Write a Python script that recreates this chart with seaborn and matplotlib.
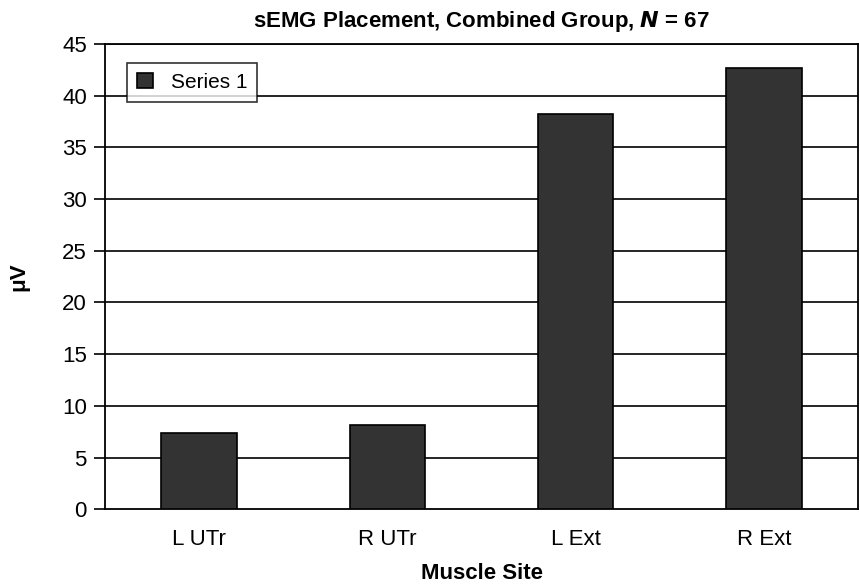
import matplotlib
matplotlib.use("Agg")
import matplotlib.pyplot as plt
import seaborn as sns
import pandas as pd
import numpy as np

# Werte
sites = ["L UTr", "R UTr", "L Ext", "R Ext"]
werte = [7.4, 8.1, 38.2, 42.7]
serie = "Series 1"

df = pd.DataFrame({"Muscle Site": sites, "uV": werte, "serie": serie})

sns.set_theme(style="white")
plt.rcParams["font.family"] = ["Liberation Sans", "DejaVu Sans"]
plt.rcParams["text.color"] = "black"
plt.rcParams["axes.labelcolor"] = "black"
plt.rcParams["xtick.color"] = "black"
plt.rcParams["ytick.color"] = "black"

fig = plt.figure(figsize=(8.6, 5.86), dpi=100)
ax = fig.add_axes([0.122, 0.131, 0.876, 0.794])

sns.barplot(data=df, x="Muscle Site", y="uV", hue="serie", palette=["#333333"],
            width=0.4, edgecolor="black", linewidth=1.2, ax=ax, zorder=3)

ax.set_ylim(0, 45)
ax.set_xlim(-0.5, 3.5)
ax.set_yticks(np.arange(0, 46, 5))
for y in np.arange(5, 46, 5):
    ax.axhline(y, color="black", linewidth=1.2, zorder=1)

# Striche auf den Kategoriegrenzen
ax.set_xticks(np.arange(-0.5, 3.6, 1), minor=False)
ax.set_xticklabels([])
ax.set_xticks(np.arange(0, 4), minor=True)
ax.set_xticklabels(sites, minor=True, fontsize=16)
ax.tick_params(axis="x", which="major", direction="inout", length=14, width=1.2, color="black")
ax.tick_params(axis="x", which="minor", length=0, pad=14, labelcolor="black")
ax.tick_params(axis="y", direction="out", length=8, width=1.2, color="black", labelsize=16, pad=5, left=True, labelcolor="black")

for s in ax.spines.values():
    s.set_color("black")
    s.set_linewidth(1.3)

ax.set_xlabel("Muscle Site", fontsize=16, fontweight="bold", va="center")
ax.set_ylabel("μV", fontsize=16, fontweight="bold", va="center")
ax.xaxis.set_label_coords(0.5, -0.138)
ax.yaxis.set_label_coords(-0.114, 0.5)
ax.set_title("sEMG Placement, Combined Group, $\\boldsymbol{N}$ = 67", fontsize=16, fontweight="bold", pad=12)

leg = ax.legend(loc="upper left", bbox_to_anchor=(0.029, 0.96), fontsize=15,
                frameon=True, fancybox=False, shadow=False, handlelength=0.75,
                handleheight=0.75, borderpad=0.5, handletextpad=0.85, borderaxespad=0)
leg.get_frame().set_edgecolor("black")
leg.get_frame().set_linewidth(1.2)
leg.set_zorder(5)

fig.savefig("out.png", dpi=100)
